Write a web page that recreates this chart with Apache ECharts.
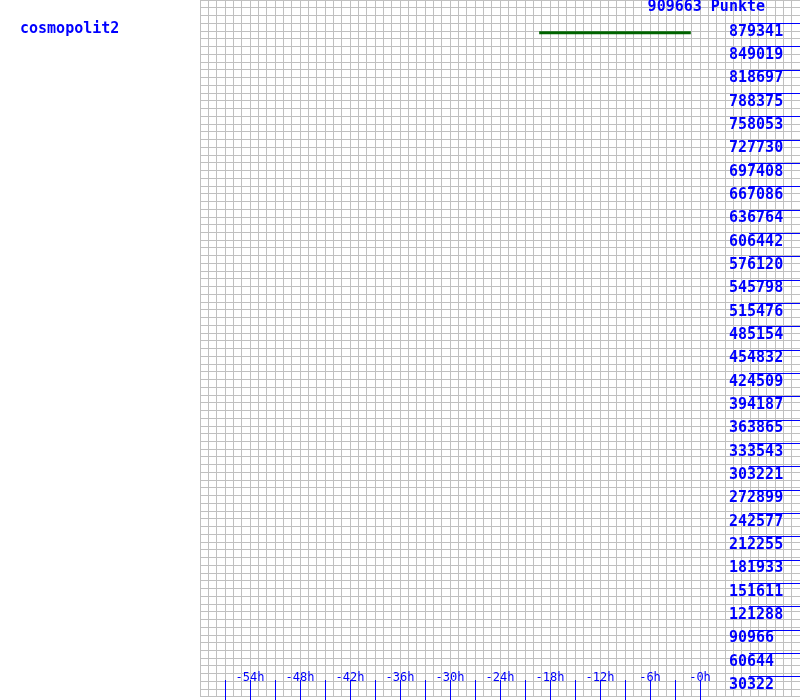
<!DOCTYPE html>
<html>
<head>
<meta charset="utf-8">
<script src="https://cdn.jsdelivr.net/npm/echarts@6/dist/echarts.min.js"></script>
<style>
html,body{margin:0;padding:0;background:#fff;}
#chart{width:800px;height:700px;}
</style>
</head>
<body>
<div id="chart"></div>
<script>
// ---- data ----
const chartTitle = 'cosmopolit2';
const topLabel = '909663 Punkte';
const yMax = 909663;
const yTickLabels = ['30322','60644','90966','121288','151611','181933','212255','242577','272899','303221',
  '333543','363865','394187','424509','454832','485154','515476','545798','576120','606442',
  '636764','667086','697408','727730','758053','788375','818697','849019','879341'];
const xTickHours = [-57,-54,-51,-48,-45,-42,-39,-36,-33,-30,-27,-24,-21,-18,-15,-12,-9,-6,-3,0];
const xLabelHours = [-54,-48,-42,-36,-30,-24,-18,-12,-6,0];
const xTickLabels = ['-54h','-48h','-42h','-36h','-30h','-24h','-18h','-12h','-6h','-0h'];
const seriesHours = [-19.3, -1.1];
const seriesValues = [867000, 867000];

// ---- chart ----
const yStep = yMax / 30;
const yTickValues = yTickLabels.map((_, i) => (i + 1) * yStep);
const mono = 'DejaVu Sans Mono';
const blue = '#0000ff';
const gray = '#c0c0c0';

const chart = echarts.init(document.getElementById('chart'), null, {renderer: 'canvas'});
chart.setOption({
  animation: false,
  backgroundColor: '#ffffff',
  title: [
    {text: chartTitle, left: 20, top: 22, padding: 0,
     textStyle: {fontFamily: mono, fontSize: 15, fontWeight: 'bold', color: blue}},
    {text: topLabel, right: 35, top: 0, padding: 0,
     textStyle: {fontFamily: mono, fontSize: 15, fontWeight: 'bold', color: blue}}
  ],
  grid: [
    {left: 200, right: 0, top: 0, bottom: 0, containLabel: false},
    {left: 200, right: 0, top: -2.6, bottom: 3.3, containLabel: false}
  ],
  xAxis: [
    {type: 'value', gridIndex: 0, min: -60, max: 12, interval: 3,
     axisLine: {show: false, onZero: false},
     splitLine: {show: false},
     axisTick: {show: true, inside: true, length: 20, customValues: xTickHours,
                lineStyle: {color: blue, width: 1}},
     axisLabel: {show: true, inside: true, margin: 16, customValues: xLabelHours,
                 fontFamily: mono, fontSize: 12, color: blue,
                 formatter: v => xTickLabels[xLabelHours.indexOf(Math.round(v))] || ''}},
    {type: 'value', gridIndex: 1, min: -60, max: 12, interval: 1,
     axisLine: {show: false, onZero: false}, axisTick: {show: false}, axisLabel: {show: false},
     splitLine: {show: true, lineStyle: {color: gray, width: 1}}}
  ],
  yAxis: [
    {type: 'value', gridIndex: 0, position: 'right', min: 0, max: yMax, interval: yStep,
     axisLine: {show: false, onZero: false},
     splitLine: {show: false},
     axisTick: {show: true, inside: true, length: 51, customValues: yTickValues,
                lineStyle: {color: blue, width: 1}},
     axisLabel: {show: true, inside: true, margin: 71, align: 'left', verticalAlign: 'top',
                 padding: [1, 0, 0, 0],
                 customValues: yTickValues,
                 fontFamily: mono, fontSize: 15, fontWeight: 'bold', color: blue,
                 formatter: v => yTickLabels[Math.round(v / yStep) - 1] || ''}},
    {type: 'value', gridIndex: 1, min: 0, max: 90, interval: 1,
     axisLine: {show: false, onZero: false}, axisTick: {show: false}, axisLabel: {show: false},
     splitLine: {show: true, lineStyle: {color: gray, width: 1}}}
  ],
  series: [
    {type: 'line', xAxisIndex: 0, yAxisIndex: 0, symbol: 'none',
     data: seriesHours.map((h, i) => [h, seriesValues[i]]),
     lineStyle: {color: '#006400', width: 3}}
  ]
});
</script>
</body>
</html>
